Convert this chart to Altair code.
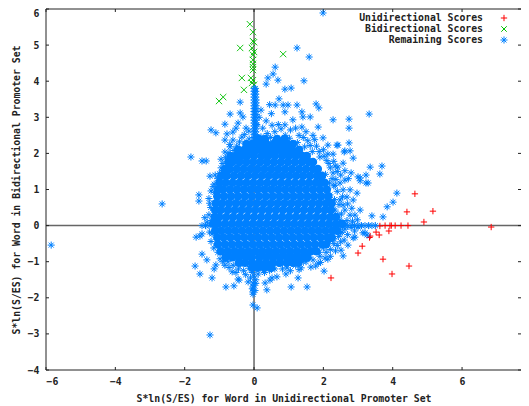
import altair as alt
import pandas as pd

x_ticks = [-6, -4, -2, 0, 2, 4, 6]
y_ticks = [-4, -3, -2, -1, 0, 1, 2, 3, 4, 5, 6]
x_title = "S*ln(S/ES) for Word in Unidirectional Promoter Set"
y_title = "S*ln(S/ES) for Word in Bidirectional Promoter Set"
legend_labels = ["Unidirectional Scores", "Bidirectional Scores", "Remaining Scores"]

uni_x = [4.64, 5.16, 4.41, 4.90, 6.84, 3.63, 3.78, 3.92, 3.96, 4.07, 4.24, 4.44, 3.89, 3.52, 3.61, 3.35, 3.33, 3.12, 3.00, 3.72, 4.47, 3.98, 2.22]
uni_y = [0.88, 0.40, 0.38, 0.10, -0.04, -0.01, 0.0, 0.0, 0.0, 0.0, 0.0, 0.0, -0.15, -0.18, -0.26, -0.29, -0.33, -0.57, -0.76, -0.93, -1.12, -1.34, -1.45]

bi_x = [-0.12, -0.03, -0.03, 0.0, -0.40, 0.84, -0.06, 0.0, -0.03, -0.03, -0.03, -0.03, -0.03, -0.03, -0.09, -0.35, -0.29, -0.89, -1.01, -0.06, 0.0]
bi_y = [5.58, 5.36, 5.11, 5.08, 4.92, 4.75, 4.92, 4.81, 4.73, 4.59, 4.48, 4.39, 4.31, 4.03, 4.09, 4.09, 3.76, 3.56, 3.45, 3.95, 3.90]

outer_points = [
    (1.99, 5.89), (1.24, 4.92), (1.59, 4.67), (0.61, 4.39), (0.55, 4.20), (0.40, 4.09), (0.35, 3.92), (0.69, 4.03),
    (1.44, 4.01), (0.89, 3.78), (1.07, 3.81), (-0.40, 3.42), (3.32, 3.09), (1.79, 3.37), (1.87, 3.26), (1.24, 3.34),
    (0.98, 3.34), (0.84, 3.34), (0.72, 3.51), (0.61, 3.34), (0.89, 3.15), (1.38, 3.15), (1.41, 3.01), (1.62, 3.01),
    (2.28, 2.93), (2.74, 2.95), (2.74, 2.70), (1.85, 2.73), (1.12, 2.93), (1.38, 2.73), (0.89, 2.79), (1.99, 2.43),
    (2.13, 2.23), (2.39, 2.23), (2.74, 2.29), (2.62, 2.07), (2.77, 2.07), (2.13, 1.98), (2.28, 1.98), (2.86, 1.87),
    (2.60, 2.04), (3.35, 1.62), (3.69, 1.65), (3.63, 1.43), (2.80, 1.46), (2.57, 1.73), (2.34, 1.65), (3.00, 1.35),
    (3.23, 1.40), (3.23, 1.18), (3.06, 1.24), (3.29, 1.18), (3.84, 0.52), (3.72, 0.24), (3.40, 0.27), (3.06, 0.43),
    (2.57, 0.57), (2.57, 0.99), (2.86, 0.71), (2.97, 0.90), (2.68, 0.79), (2.48, 1.18), (2.28, 1.46), (2.42, 2.23),
    (2.91, 0.29), (4.12, 0.90), (4.01, 0.65), (3.06, 1.32), (3.14, -0.20), (2.86, -0.34), (3.26, -0.26), (2.71, -0.54),
    (2.57, -0.84), (2.62, 1.26), (2.77, 0.99), (2.34, 1.12), (2.48, 0.71), (2.62, 0.43), (2.34, 0.43), (2.77, 0.29),
    (2.48, 0.15), (2.19, 0.85), (2.19, 0.15), (2.50, -0.20), (2.70, -0.25), (2.90, -0.15), (2.30, -0.50), (2.50, -0.45),
    (2.35, -0.70), (2.60, -0.40), (2.05, -0.90), (2.20, -0.85), (2.31, -0.37), (2.54, -0.18), (2.91, -0.32), (3.20, -0.20),
    (1.50, 2.60), (1.70, 2.50), (1.30, 2.50), (1.05, 2.65), (0.70, 2.80), (0.50, 3.10), (0.35, 2.90), (0.20, 3.20),
    (0.15, 3.00), (0.45, 3.35), (0.25, 2.70), (0.60, 2.60), (0.90, 2.50), (1.55, 2.35), (1.80, 2.20), (2.00, 2.10),
    (1.90, 1.90), (2.10, 1.80), (2.20, 1.60), (2.40, 1.50), (2.25, 1.30), (2.40, 0.95), (2.50, 1.40), (2.30, 1.10),
    (-0.69, 3.09), (-0.40, 3.12), (-0.84, 2.81), (-1.24, 2.65), (-1.10, 2.57), (-0.78, 2.54), (-1.82, 1.90), (-1.50, 1.79),
    (-1.38, 1.79), (-0.95, 1.84), (-0.84, 2.37), (-0.61, 2.59), (-0.32, 3.01), (-0.46, 2.84), (-1.27, 1.37), (-1.12, 1.40),
    (-0.92, 1.48), (-0.75, 1.60), (-0.69, 2.18), (-0.84, 2.04), (-0.20, 2.23), (-0.35, 2.45), (-0.61, 2.37), (-0.52, 2.70),
    (-0.23, 2.70), (-0.40, 2.09), (-1.59, 0.85), (-1.59, 0.68), (-2.65, 0.60), (-1.24, 0.96), (-5.85, -0.54), (-1.67, -0.32),
    (-1.56, -0.29), (-1.50, -0.23), (-1.21, -0.23), (-1.50, -0.79), (-1.36, -0.95), (-1.70, -1.12), (-1.56, -1.34),
    (-1.10, -1.09), (-1.15, -1.20), (-1.21, -1.45), (-0.63, -1.28), (-0.81, -1.70), (-0.58, -1.67), (-0.43, -1.51),
    (-0.46, -1.48), (-0.03, -1.84), (-0.05, -1.75), (0.03, -1.80), (-0.03, -1.90), (-0.03, -2.20), (0.09, -2.28),
    (-1.27, -3.03), (-0.17, -1.56), (-0.03, -1.59), (0.32, -1.59), (0.37, -1.78), (0.46, -1.51), (0.52, -1.45), (0.66, -1.42),
    (1.07, -1.70), (1.53, -1.70), (1.27, -1.45), (0.92, -1.34), (1.36, -1.17), (1.64, -1.15), (2.02, -1.26), (1.85, -1.04),
    (2.13, -0.93), (2.51, -0.68), (0.95, -1.17), (1.04, -0.95), (-0.05, -1.30), (0.00, -1.40), (0.05, -1.50), (-0.10, -1.45),
    (0.00, -1.65), (0.05, -1.60), (-0.03, -1.70), (0.30, -1.30), (0.45, -1.25), (0.60, -1.20), (-0.30, -1.25), (-0.45, -1.20),
    (-0.60, -1.10), (-0.75, -1.00), (-0.90, -1.00), (1.20, -1.10), (1.50, -1.00), (1.70, -0.95), (1.90, -0.85), (1.10, -1.05),
    (-0.50, 2.20), (-0.70, 2.25), (-0.95, 1.60), (-1.05, 1.30), (-1.15, 1.15), (-1.30, 0.75), (-1.25, 0.50), (-1.30, 0.30),
    (-1.35, 0.10), (-1.50, 0.00), (-1.40, 0.00), (-1.30, 0.00),
]

# patchy ring of stars around the solid blob
fringe_points = [
    (-0.15, 2.62), (0.08, 2.80), (0.38, 2.55), (0.52, 2.78), (0.78, 2.68), (1.02, 2.42), (1.20, 2.70), (1.42, 2.44),
    (1.62, 2.22), (1.75, 2.38), (1.88, 2.05), (1.68, 2.05), (2.02, 1.92), (2.16, 1.72), (2.30, 1.78), (2.42, 1.62),
    (2.36, 1.28), (2.62, 1.52), (2.72, 1.30), (2.55, 0.80), (2.45, 0.58), (2.70, 0.60), (2.82, 0.48), (2.52, 0.32),
    (2.68, 0.14), (2.84, 0.12), (2.98, 0.16), (2.62, -0.10), (2.44, -0.30), (2.40, -0.55), (2.20, -0.66), (2.08, -0.74),
    (1.92, -1.02), (1.78, -1.12), (1.58, -0.88), (1.42, -1.00), (1.30, -1.22), (1.05, -1.25), (0.82, -1.20), (0.70, -1.05),
    (0.24, -1.20), (0.12, -1.34), (-0.14, -1.18), (-0.24, -1.36), (-0.40, -1.08), (-0.52, -1.30), (-0.72, -1.16), (-0.84, -1.10),
    (-0.98, -0.92), (-1.04, -0.74), (-1.16, -0.62), (-1.24, -0.44), (-1.28, -0.18), (-1.22, 0.14), (-1.42, 0.22), (-1.28, 0.62),
    (-1.14, 0.92), (-1.18, 1.08), (-1.00, 1.44), (-0.90, 1.72), (-0.82, 1.88), (-0.72, 2.02), (-0.58, 2.08), (-0.42, 2.32),
    (-0.28, 2.52), (-0.14, 2.40), (0.20, 2.46), (0.48, 2.44), (0.74, 2.40), (1.25, 2.30), (1.46, 2.18), (2.06, 1.42),
    (2.18, 1.18), (2.32, 0.72), (2.42, 0.30), (2.55, -0.02), (2.24, -0.26), (2.18, -0.44), (2.00, -0.62), (1.88, -0.74),
]

# the column of points along x = 0
column_y = [3.8, 3.72, 3.64, 3.56, 3.48, 3.4, 3.32, 3.24, 3.16, 3.08, 3.0, 2.92, 2.84, 2.76, 2.68, 2.6, 2.52, 2.44, 2.36]
column_x_center = [0.0, 0.0, 0.0, 0.0, 0.0, 0.0, 0.0, 0.0, 0.0, 0.0, 0.0, 0.0, 0.0, 0.0, 0.0, 0.0, 0.0, 0.0, 0.0]
column_x_right = [0.04, 0.05, 0.05, 0.05, 0.06, 0.06, 0.06, 0.05, 0.05, 0.06, 0.06, 0.05, 0.05, 0.06, 0.05, 0.05, 0.06, 0.05, 0.06]

zero_row_x = [2.2, 2.3, 2.4, 2.5, 2.6, 2.7, 2.8, 2.9, 3.0, 3.1, 3.2, 3.3, 3.4, 3.5, 2.4, 2.6, 2.8, 3.0]
zero_row_y = [0.0, 0.0, 0.0, 0.0, 0.0, 0.0, 0.0, 0.0, 0.0, 0.0, 0.0, 0.0, 0.0, 0.0, 0.06, 0.05, -0.05, -0.04]

solid_rows = [
    (2.40, [0.14, 0.32, 0.66, 0.88]),
    (2.26, [-0.22, -0.04, 0.16, 0.36, 0.56, 0.76, 0.96, 1.12]),
    (2.10, [-0.46, -0.28, -0.10, 0.10, 0.30, 0.50, 0.70, 0.90, 1.10, 1.30]),
    (1.93, [-0.68, -0.54, -0.38, -0.20, 0.0, 0.22, 0.40, 0.60, 0.81, 1.0, 1.20, 1.40, 1.52]),
    (1.76, [-0.74, -0.62, -0.42, -0.22, -0.02, 0.18, 0.38, 0.58, 0.78, 0.98, 1.18, 1.38, 1.58, 1.70]),
    (1.57, [-0.84, -0.70, -0.50, -0.30, -0.10, 0.10, 0.30, 0.50, 0.70, 0.90, 1.10, 1.30, 1.50, 1.70, 1.84]),
    (1.38, [-0.94, -0.78, -0.58, -0.38, -0.18, 0.02, 0.22, 0.42, 0.62, 0.82, 1.02, 1.22, 1.42, 1.62, 1.82, 1.96]),
    (1.19, [-1.00, -0.82, -0.62, -0.42, -0.22, -0.02, 0.18, 0.38, 0.58, 0.78, 0.98, 1.18, 1.38, 1.58, 1.78, 1.92, 2.04]),
    (1.00, [-1.04, -0.90, -0.70, -0.50, -0.30, -0.10, 0.10, 0.30, 0.50, 0.70, 0.90, 1.10, 1.30, 1.50, 1.70, 1.90, 2.10]),
    (0.81, [-1.06, -0.86, -0.66, -0.46, -0.26, -0.06, 0.14, 0.34, 0.54, 0.74, 0.94, 1.14, 1.34, 1.54, 1.74, 1.94, 2.14]),
    (0.62, [-1.10, -0.92, -0.72, -0.52, -0.32, -0.12, 0.08, 0.28, 0.48, 0.68, 0.88, 1.08, 1.28, 1.48, 1.68, 1.88, 2.08, 2.24]),
    (0.43, [-1.12, -0.96, -0.76, -0.56, -0.36, -0.16, 0.04, 0.24, 0.44, 0.64, 0.84, 1.04, 1.24, 1.44, 1.64, 1.84, 2.04, 2.22]),
    (0.24, [-1.14, -1.00, -0.80, -0.60, -0.40, -0.20, 0.00, 0.20, 0.40, 0.60, 0.80, 1.00, 1.20, 1.40, 1.60, 1.80, 2.00, 2.20, 2.36]),
    (0.05, [-1.18, -1.04, -0.84, -0.64, -0.44, -0.24, -0.04, 0.16, 0.36, 0.56, 0.76, 0.96, 1.16, 1.36, 1.56, 1.76, 1.96, 2.16, 2.36, 2.54]),
    (-0.14, [-1.12, -0.94, -0.74, -0.54, -0.34, -0.14, 0.06, 0.26, 0.46, 0.66, 0.86, 1.06, 1.26, 1.46, 1.66, 1.86, 2.06, 2.26, 2.40]),
    (-0.33, [-1.06, -0.88, -0.68, -0.48, -0.28, -0.08, 0.12, 0.32, 0.52, 0.72, 0.92, 1.12, 1.32, 1.52, 1.72, 1.92, 2.12, 2.24]),
    (-0.52, [-1.04, -0.84, -0.64, -0.44, -0.24, -0.04, 0.16, 0.36, 0.56, 0.76, 0.96, 1.16, 1.36, 1.56, 1.76, 1.96, 2.08]),
    (-0.71, [-0.96, -0.76, -0.56, -0.36, -0.16, 0.04, 0.24, 0.44, 0.64, 0.84, 1.04, 1.24, 1.44, 1.64, 1.80]),
    (-0.88, [-0.82, -0.62, -0.44, -0.24, -0.06, 0.16, 0.36, 0.56, 0.76, 0.96, 1.16, 1.36, 1.54]),
    (-1.03, [-0.44, -0.26, -0.06, 0.14, 0.34, 0.54, 0.74, 0.94, 1.12, 1.28]),
    (-1.17, [-0.06, 0.10, 0.30, 0.50]),
]

legend_y_px = [18, 29, 40]

STAR = "M-1,0L1,0M0,-1L0,1M-0.7,-0.7L0.7,0.7M-0.7,0.7L0.7,-0.7"
PLUS = "M-1,0L1,0M0,-1L0,1"
CROSS = "M-1,-1L1,1M-1,1L1,-1"
RED, GREEN, BLUE = "#ff0000", "#00c000", "#0080ff"
W, H = 475, 361
FONT = "DejaVu Sans Mono"
TXT = "#222222"

rem_x = [p[0] for p in outer_points + fringe_points] + column_x_center + column_x_right + zero_row_x
rem_y = [p[1] for p in outer_points + fringe_points] + column_y + column_y + zero_row_y
solid_x, solid_y = [], []
for yy, row in solid_rows:
    rem_x += row
    rem_y += [yy] * len(row)
    solid_x += row
    solid_y += [yy] * len(row)

xs = alt.Scale(domain=[-6, 7.7], nice=False, zero=False)
ys = alt.Scale(domain=[-4, 6], nice=False, zero=False)
axis_style = dict(format="d", grid=False, domain=False, tickSize=0,
                  labelFont=FONT, labelFontWeight="bold", labelFontSize=9.8, labelColor=TXT,
                  titleFont=FONT, titleFontWeight="bold", titleFontSize=9.8, titleColor=TXT)
X = alt.X("x:Q", scale=xs, title=x_title,
          axis=alt.Axis(values=x_ticks, labelPadding=6, titlePadding=8, **axis_style))
Y = alt.Y("y:Q", scale=ys, title=y_title,
          axis=alt.Axis(values=y_ticks, labelPadding=7, titlePadding=6,
                        labelOffset={"condition": {"test": "datum.value == 6", "value": 4}, "value": 0},
                        **axis_style))


def scatter(xv, yv, shape, color, size, sw=1.0):
    return alt.Chart(pd.DataFrame({"x": xv, "y": yv})).mark_point(
        shape=shape, color=color, filled=False, strokeWidth=sw, size=size, opacity=1
    ).encode(x=X, y=Y)


underlay = alt.Chart(pd.DataFrame({"x": solid_x, "y": solid_y})).mark_point(
    shape="circle", color=BLUE, filled=True, size=72, opacity=1, strokeWidth=0
).encode(x=X, y=Y)

xt = pd.DataFrame({"x": x_ticks})
yt = pd.DataFrame({"y": y_ticks})
ticks = [
    alt.Chart(xt).mark_rule(color=TXT, strokeWidth=1).encode(x=X, y=alt.value(H), y2=alt.value(H - 3)),
    alt.Chart(xt).mark_rule(color=TXT, strokeWidth=1).encode(x=X, y=alt.value(0), y2=alt.value(3)),
    alt.Chart(yt).mark_rule(color=TXT, strokeWidth=1).encode(y=Y, x=alt.value(0), x2=alt.value(3)),
    alt.Chart(yt).mark_rule(color=TXT, strokeWidth=1).encode(y=Y, x=alt.value(W), x2=alt.value(W - 3)),
]
zero_v = alt.Chart(pd.DataFrame({"x": [0]})).mark_rule(color="#666666", strokeWidth=1.5).encode(x=X, y=alt.value(0), y2=alt.value(H))
zero_h = alt.Chart(pd.DataFrame({"y": [0]})).mark_rule(color="#666666", strokeWidth=1.5).encode(y=Y, x=alt.value(0), x2=alt.value(W))
one = pd.DataFrame({"a": [0]})
frame = [
    alt.Chart(one).mark_rule(color=TXT, strokeWidth=1).encode(x=alt.value(0), x2=alt.value(W), y=alt.value(0)),
    alt.Chart(one).mark_rule(color=TXT, strokeWidth=1).encode(x=alt.value(0), x2=alt.value(W), y=alt.value(H)),
    alt.Chart(one).mark_rule(color=TXT, strokeWidth=1).encode(x=alt.value(0), y=alt.value(0), y2=alt.value(H)),
]

legend = []
for label, ypx, shape, color, size in zip(
    legend_labels, legend_y_px, [PLUS, CROSS, STAR], [RED, GREEN, BLUE], [40, 30, 50]
):
    row = pd.DataFrame({"label": [label]})
    legend.append(
        alt.Chart(row).mark_text(align="right", baseline="middle", font=FONT, fontWeight="bold",
                                 fontSize=9.8, color=TXT).encode(
            text="label:N", x=alt.value(437), y=alt.value(ypx - 9))
    )
    legend.append(
        alt.Chart(row).mark_point(shape=shape, color=color, filled=False, strokeWidth=1, size=size, opacity=1).encode(
            x=alt.value(458), y=alt.value(ypx - 9))
    )

chart = alt.layer(
    zero_v, zero_h, *ticks, *frame,
    scatter(uni_x, uni_y, PLUS, RED, 40),
    scatter(bi_x, bi_y, CROSS, GREEN, 40, 0.9),
    underlay,
    scatter(rem_x, rem_y, STAR, BLUE, 50),
    *legend,
).properties(
    width=W, height=H, autosize=alt.AutoSizeParams(type="none"),
    padding={"left": 38, "top": 1, "right": 0, "bottom": 36},
    background="white",
).configure_view(stroke=None)

chart.save("out.html", embed_options={"renderer": "svg", "actions": False})
